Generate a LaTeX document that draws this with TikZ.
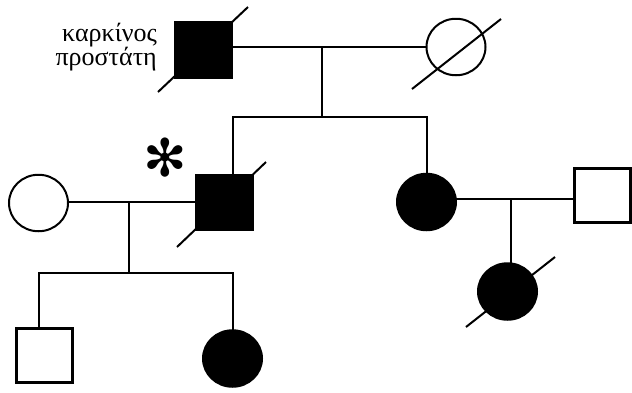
\documentclass[tikz,border=0pt]{standalone}
\usepackage{fontspec}
\setmainfont{Liberation Serif}
\newfontfamily\symfont{DejaVu Sans}
\usetikzlibrary{shapes.geometric}
\begin{document}
\begin{tikzpicture}[x=1pt,y=-1pt,
  male/.style={rectangle, draw=black, line width=3pt, minimum width=56pt,
    minimum height=54.5pt, inner sep=0pt, fill=white},
  female/.style={ellipse, draw=black, line width=2pt, minimum width=59pt,
    minimum height=56.5pt, inner sep=0pt, fill=white},
  affected/.style={fill=black},
  link/.style={line width=2pt, line cap=rect},
  deceased/.style={line width=2pt},
  lbl/.style={font=\fontsize{26}{28}\selectfont, inner sep=0pt, anchor=base east}]
\useasboundingbox (0,0) rectangle (632,392);

% generation I
\node[male, affected] (gf) at (203,50) {};
\node[female] (gm) at (456,47) {};
\node[lbl] (dx1) at (157,41) {καρκίνος};
\node[lbl] (dx2) at (157,65) {προστάτη};

% generation II
\node[male, affected] (son) at (224.5,202.5) {};
\node[female] (wife) at (38.5,203) {};
\node[female, affected] (dau) at (426.5,202) {};
\node[male] (husb) at (602,195.5) {};
\node[inner sep=0pt, font=\symfont\fontsize{52}{52}\selectfont] (proband) at (165,158) {✻};

% generation III
\node[male] (gc1) at (44.5,355.5) {};
\node[female, affected] (gc2) at (232.5,358.5) {};
\node[female, affected] (gc3) at (507.5,291.5) {};

% line junctions
\coordinate (m1) at (322,47);
\coordinate (s1) at (322,117);
\coordinate (m2) at (129,202);
\coordinate (s2) at (129,273);
\coordinate (m3) at (511,199);

% couple I and their children
\draw[link] (m1 -| gf.east) -- (gm.west |- m1);
\draw[link] (m1) -- (s1);
\draw[link] (233,117) -- (s1) -- (426.5,117);
\draw[link] (233,117) -- (son.north -| 233,0);
\draw[link] (426.5,117) -- (dau.north);

% couple II (left) and their children
\draw[link] (wife.east |- m2) -- (son.west |- m2);
\draw[link] (m2) -- (s2);
\draw[link] (39,273) -- (s2) -- (233,273);
\draw[link] (39,273) -- (gc1.north -| 39,0);
\draw[link] (233,273) -- (gc2.north -| 233,0);

% couple II (right) and their child
\draw[link] (dau.east |- m3) -- (husb.west |- m3);
\draw[link] (m3) -- (gc3.north -| m3);

% deceased marks
\draw[deceased] ([shift={(-45,42)}]gf.center) -- ([shift={(45,-43)}]gf.center);
\draw[deceased] ([shift={(-44,42)}]gm.center) -- ([shift={(45,-28)}]gm.center);
\draw[deceased] ([shift={(-47.5,44.5)}]son.center) -- ([shift={(41.5,-40.5)}]son.center);
\draw[deceased] ([shift={(-41.5,35.5)}]gc3.center) -- ([shift={(47.5,-34.5)}]gc3.center);
\end{tikzpicture}
\end{document}
